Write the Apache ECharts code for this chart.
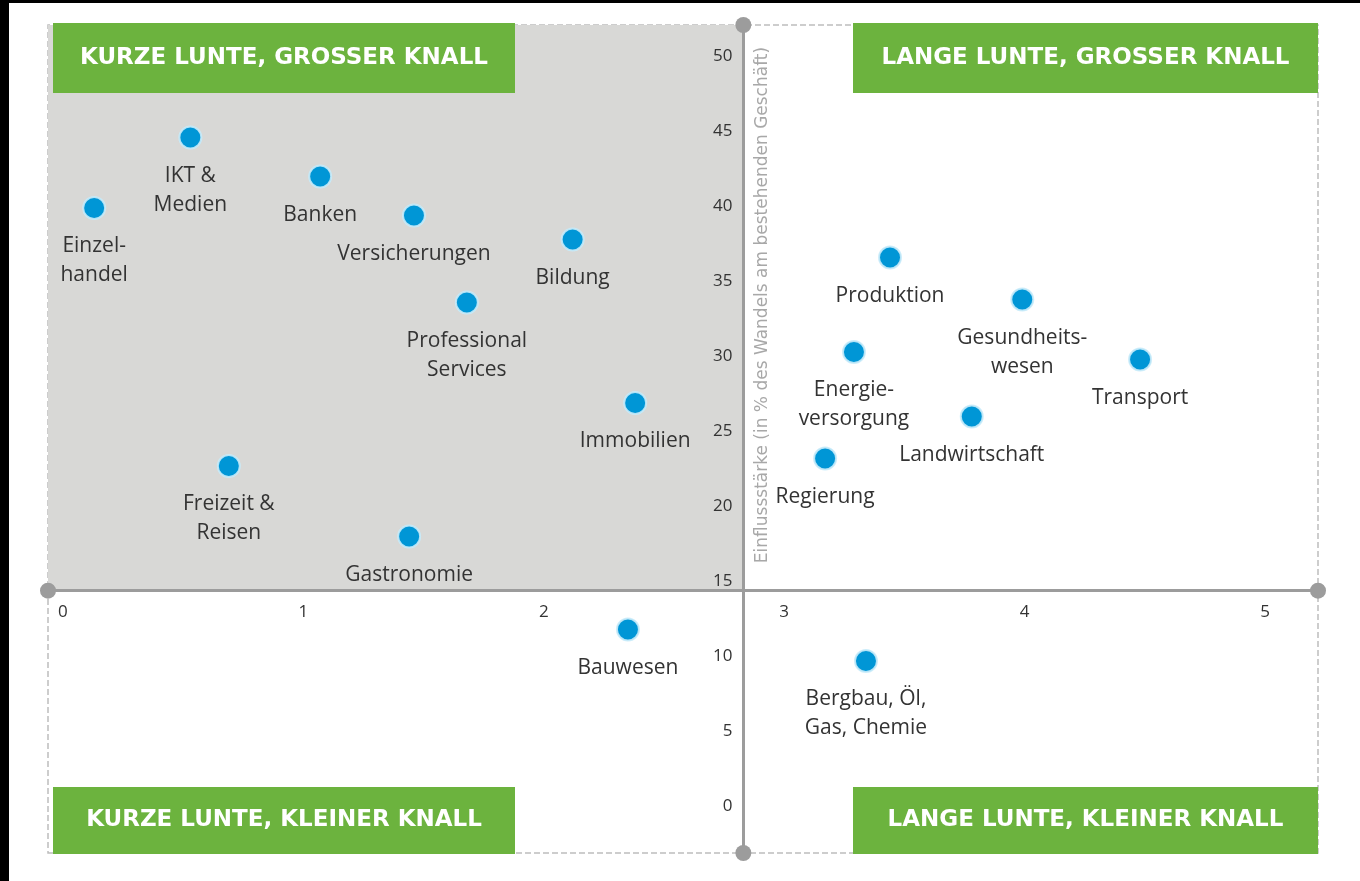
<!DOCTYPE html>
<html>
<head>
<meta charset="utf-8">
<script src="https://cdn.jsdelivr.net/npm/echarts@6/dist/echarts.min.js"></script>
<style>
  html, body { margin: 0; padding: 0; background: #fff; }
  #chart { width: 1360px; height: 881px; }
</style>
</head>
<body>
<div id="chart"></div>
<script>
// Branchen und ihre Position (Lunte = x, Knall = y)
const sectors = ['Einzel-\nhandel', 'IKT &\nMedien', 'Banken', 'Versicherungen', 'Bildung',
  'Professional\nServices', 'Immobilien', 'Freizeit &\nReisen', 'Gastronomie', 'Bauwesen',
  'Bergbau, Öl,\nGas, Chemie', 'Produktion', 'Gesundheits-\nwesen', 'Transport',
  'Energie-\nversorgung', 'Landwirtschaft', 'Regierung']
const lunte = [0.13, 0.53, 1.07, 1.46, 2.12, 1.68, 2.38, 0.69, 1.44, 2.35,
  3.34, 3.44, 3.99, 4.48, 3.29, 3.78, 3.17]
const knall = [40.6, 45.3, 42.7, 40.1, 38.5, 34.3, 27.6, 23.4, 18.7, 12.5,
  10.4, 37.3, 34.5, 30.5, 31.0, 26.7, 23.9]

const xTicks = [0, 1, 2, 3, 4, 5]
const yTicks = [0, 5, 10, 15, 20, 25, 30, 35, 40, 45, 50]
const xRange = [-0.062, 5.22]
const yRange = [-2.4, 52.8]
const xCross = 2.83   // senkrechte Achse
const yCross = 15     // waagerechte Achse

const quadrants = ['KURZE LUNTE, GROSSER KNALL', 'LANGE LUNTE, GROSSER KNALL',
  'KURZE LUNTE, KLEINER KNALL', 'LANGE LUNTE, KLEINER KNALL']
const yTitle = 'Einflussstärke (in % des Wandels am bestehenden Geschäft)'

const green = '#6cb33e'
const gridLeft = 48, gridRight = 42, gridTop = 25, gridBottom = 28

function box(text, left, top, w, h) {
  return {
    type: 'group', left: left, top: top, z: 100,
    children: [
      {type: 'rect', z: 100, shape: {x: 0, y: 0, width: w, height: h}, style: {fill: green}},
      {type: 'text', z: 101, x: w / 2, y: h / 2, style: {
        text: text, fill: '#fff', font: 'bold 23px "DejaVu Sans"',
        align: 'center', verticalAlign: 'middle'}}
    ]
  }
}

const chart = echarts.init(document.getElementById('chart'))
const option = {
  animation: false,
  backgroundColor: '#fff',
  grid: {left: gridLeft, right: gridRight, top: gridTop, bottom: gridBottom},
  xAxis: {
    type: 'value', min: xRange[0], max: xRange[1], position: 'bottom', z: 10,
    splitLine: {show: false},
    axisTick: {show: false},
    axisLine: {show: true, symbol: ['circle', 'circle'], symbolSize: [16, 16],
      lineStyle: {color: '#9c9c9c', width: 3}},
    axisLabel: {customValues: xTicks, color: '#333', fontSize: 17,
      fontFamily: 'Open Sans', margin: 13}
  },
  yAxis: {
    type: 'value', min: yRange[0], max: yRange[1], position: 'left', z: 10,
    splitLine: {show: false},
    axisTick: {show: false},
    axisLine: {show: true, symbol: ['circle', 'circle'], symbolSize: [16, 16],
      lineStyle: {color: '#9c9c9c', width: 3}},
    axisLabel: {customValues: yTicks, color: '#333', fontSize: 17,
      fontFamily: 'Open Sans', margin: 11, verticalAlign: 'bottom', padding: [0, 0, 2, 0]}
  },
  graphic: [
    {type: 'rect', left: 0, top: 0, z: 200, shape: {width: 9, height: 881}, style: {fill: '#000'}},
    {type: 'rect', left: 0, top: 0, z: 200, shape: {width: 1360, height: 3}, style: {fill: '#000'}},
    box(quadrants[0], 53, 23, 462, 70),
    box(quadrants[1], 853, 23, 465, 70),
    box(quadrants[2], 53, 787, 462, 67),
    box(quadrants[3], 853, 787, 465, 67),
    {type: 'text', x: 763, y: 305, rotation: Math.PI / 2, z: 50, style: {
      text: yTitle, fill: '#a8a8a8', font: '17px "DejaVu Sans"',
      align: 'center', verticalAlign: 'middle'}}
  ],
  series: [{
    type: 'scatter',
    symbolSize: 22,
    itemStyle: {color: '#0096d6', borderColor: 'rgba(200,235,250,0.9)', borderWidth: 2, opacity: 1},
    label: {
      show: true, position: 'bottom', distance: 12,
      formatter: p => p.data.name,
      color: '#333', fontSize: 21, lineHeight: 29, fontFamily: 'Open Sans', align: 'center'
    },
    data: sectors.map((s, i) => ({name: s, value: [lunte[i], knall[i]]})),
    markArea: {
      silent: true,
      label: {show: false},
      data: [
        [{coord: [xRange[0], yRange[0]], itemStyle: {color: 'rgba(0,0,0,0)',
            borderColor: '#bdbdbd', borderWidth: 1.5, borderType: 'dashed'}},
         {coord: [xRange[1], yRange[1]]}],
        [{coord: [xRange[0], yCross], itemStyle: {color: '#d8d8d6', borderWidth: 0}},
         {coord: [xCross, yRange[1]]}]
      ]
    }
  }]
}
chart.setOption(option)

// Achsen in den Kreuzungspunkt schieben
const px = chart.convertToPixel({xAxisIndex: 0}, xCross)
const py = chart.convertToPixel({yAxisIndex: 0}, yCross)
chart.setOption({
  xAxis: {offset: py - (881 - gridBottom)},
  yAxis: {offset: gridLeft - px}
})
</script>
</body>
</html>
